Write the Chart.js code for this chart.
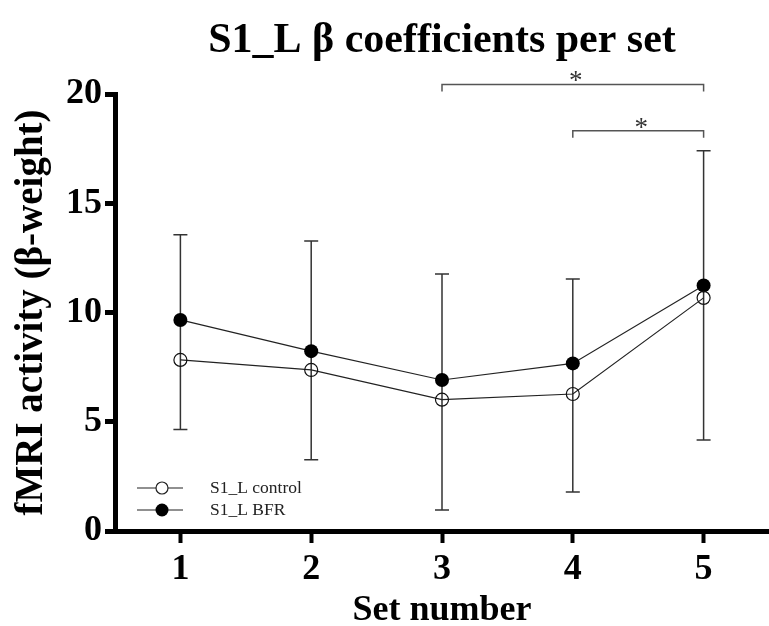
<!DOCTYPE html>
<html>
<head>
<meta charset="utf-8">
<script src="https://cdn.jsdelivr.net/npm/chart.js@4/dist/chart.umd.min.js"></script>
<style>
  html, body { margin: 0; padding: 0; background: #fff; }
  #wrap { width: 769px; height: 626px; }
</style>
</head>
<body>
<div id="wrap"><canvas id="c" width="769" height="626"></canvas></div>
<script>
// ---- data ----
const categories = ['1', '2', '3', '4', '5'];
const controlMean = [7.83, 7.37, 6.01, 6.27, 10.67];
const bfrMean = [9.66, 8.23, 6.91, 7.67, 11.24];
const errUpper = [13.56, 13.27, 11.76, 11.53, 17.4];
const errLower = [4.65, 3.26, 0.96, 1.79, 4.16];
const yTicks = [0, 5, 10, 15, 20];
// significance brackets (category indices, level in y units)
const bracketFrom = [2, 3];
const bracketTo = [4, 4];
const bracketLevel = [20.44, 18.32];
const bracketLabel = ['*', '*'];
const seriesNames = ['S1_L control', 'S1_L BFR'];
const chartTitle = 'S1_L \u03B2 coefficients per set';

const FONT = '"Liberation Serif", "Times New Roman", serif';

const extras = {
  id: 'extras',
  beforeDatasetsDraw(chart) {
    const ctx = chart.ctx;
    const xs = chart.scales.x, ys = chart.scales.y;
    ctx.save();
    ctx.strokeStyle = '#333';
    ctx.lineWidth = 1.5;
    const cap = 7;
    categories.forEach((c, i) => {
      const x = xs.getPixelForValue(i);
      const yt = ys.getPixelForValue(errUpper[i]);
      const yb = ys.getPixelForValue(errLower[i]);
      ctx.beginPath();
      ctx.moveTo(x, yt); ctx.lineTo(x, yb);
      ctx.moveTo(x - cap, yt); ctx.lineTo(x + cap, yt);
      ctx.moveTo(x - cap, yb); ctx.lineTo(x + cap, yb);
      ctx.stroke();
    });
    ctx.restore();
  },
  afterDraw(chart) {
    const ctx = chart.ctx;
    const xs = chart.scales.x, ys = chart.scales.y;
    const ca = chart.chartArea;
    ctx.save();
    // title
    ctx.fillStyle = '#000';
    ctx.font = 'bold 42px ' + FONT;
    ctx.textAlign = 'center';
    ctx.textBaseline = 'middle';
    ctx.fillText(chartTitle, (ca.left + ca.right) / 2, 41);
    // brackets
    ctx.strokeStyle = '#555';
    ctx.lineWidth = 1.5;
    ctx.fillStyle = '#333';
    ctx.font = '27px ' + FONT;
    bracketFrom.forEach((f, k) => {
      const x1 = xs.getPixelForValue(f);
      const x2 = xs.getPixelForValue(bracketTo[k]);
      const y = ys.getPixelForValue(bracketLevel[k]);
      ctx.beginPath();
      ctx.moveTo(x1, y + 7); ctx.lineTo(x1, y); ctx.lineTo(x2, y); ctx.lineTo(x2, y + 7);
      ctx.stroke();
      ctx.textBaseline = 'alphabetic';
      ctx.fillText(bracketLabel[k], (x1 + x2) / 2 + 3, y + 5);
    });
    // legend
    const lx1 = ca.left + 22, lx2 = ca.left + 68, lc = ca.left + 47;
    const ly = [ca.bottom - 43, ca.bottom - 21];
    ctx.font = '17.5px ' + FONT;
    ctx.textAlign = 'left';
    ctx.textBaseline = 'middle';
    ly.forEach((y, k) => {
      ctx.strokeStyle = '#222';
      ctx.lineWidth = 1.2;
      ctx.beginPath(); ctx.moveTo(lx1, y); ctx.lineTo(lx2, y); ctx.stroke();
      ctx.beginPath();
      ctx.arc(lc, y, k === 0 ? 6 : 6.5, 0, Math.PI * 2);
      if (k === 0) { ctx.fillStyle = '#fff'; ctx.fill(); ctx.stroke(); }
      else { ctx.fillStyle = '#000'; ctx.fill(); }
      ctx.fillStyle = '#222';
      ctx.fillText(seriesNames[k], ca.left + 95, y);
    });
    ctx.restore();
  }
};

new Chart(document.getElementById('c'), {
  type: 'line',
  data: {
    labels: categories,
    datasets: [
      {
        label: seriesNames[0],
        data: controlMean,
        borderColor: '#222',
        borderWidth: 1.2,
        backgroundColor: 'rgba(0,0,0,0)',
        pointRadius: 6.5,
        pointBorderWidth: 1.2,
        pointBorderColor: '#111',
        pointBackgroundColor: 'rgba(0,0,0,0)',
        tension: 0
      },
      {
        label: seriesNames[1],
        data: bfrMean,
        borderColor: '#222',
        borderWidth: 1.2,
        backgroundColor: '#000',
        pointRadius: 7,
        pointBorderWidth: 0,
        pointBackgroundColor: '#000',
        tension: 0
      }
    ]
  },
  options: {
    responsive: false,
    devicePixelRatio: 1,
    animation: false,
    events: [],
    layout: { autoPadding: false, padding: { top: 94, right: 0, left: 0, bottom: 0 } },
    plugins: { legend: { display: false }, title: { display: false }, tooltip: { enabled: false } },
    scales: {
      x: {
        type: 'category',
        offset: true,
        afterFit(s) { s.height = 95; },
        grid: { drawOnChartArea: false, drawTicks: true, tickLength: 12, tickWidth: 4, tickColor: '#000', offset: false },
        border: { display: true, width: 5, color: '#000' },
        ticks: { color: '#000', font: { family: FONT, size: 36, weight: 'bold', lineHeight: 1 }, padding: 9, maxRotation: 0 },
        title: { display: true, text: 'Set number', color: '#000', font: { family: FONT, size: 36, weight: 'bold', lineHeight: 1 }, padding: { top: 0, bottom: -3 } }
      },
      y: {
        min: 0, max: 20,
        afterFit(s) { s.width = 115; },
        afterBuildTicks(s) { s.ticks = yTicks.map(v => ({ value: v })); },
        grid: { drawOnChartArea: false, drawTicks: true, tickLength: 10, tickWidth: 5, tickColor: '#000' },
        border: { display: true, width: 5, color: '#000' },
        ticks: { color: '#000', font: { family: FONT, size: 36, weight: 'bold' }, padding: 3 },
        title: { display: true, text: 'fMRI activity (\u03B2-weight)', color: '#000', font: { family: FONT, size: 39, weight: 'bold', lineHeight: 1 }, padding: { top: 12, bottom: 0 } }
      }
    }
  },
  plugins: [extras]
});
</script>
</body>
</html>
